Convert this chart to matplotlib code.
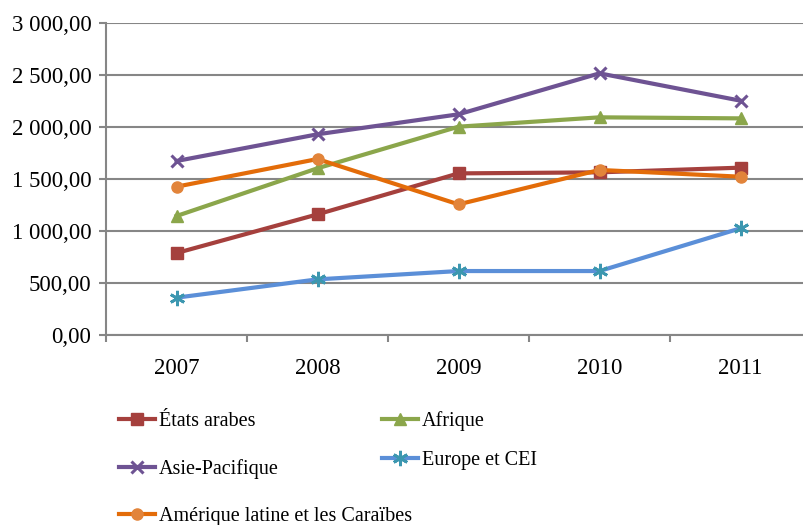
import matplotlib.pyplot as plt
import numpy as np
from matplotlib.ticker import FuncFormatter

plt.rcParams["font.family"] = ["Liberation Serif", "DejaVu Serif"]

years = ["2007", "2008", "2009", "2010", "2011"]
etats_arabes = [788, 1160, 1554, 1564, 1609]
afrique = [1144, 1603, 2003, 2093, 2083]
asie_pacifique = [1673, 1930, 2122, 2516, 2253]
europe_cei = [359, 535, 615, 615, 1026]
amerique_latine = [1426, 1692, 1256, 1587, 1522]

series = [
    ("États arabes", etats_arabes, "#A5403D", "#A5403D", "s", 8, 1),
    ("Afrique", afrique, "#8BA64B", "#8BA64B", "^", 8, 1),
    ("Asie-Pacifique", asie_pacifique, "#6E5393", "#6E5393", "x", 8, 2.2),
    ("Europe et CEI", europe_cei, "#5B8FD8", "#3C97B0", (6, 2, 0), 11, 2),
    ("Amérique latine et les Caraïbes", amerique_latine, "#E36C09", "#E2843A", "o", 8, 1),
]

fig = plt.figure(figsize=(8.04, 5.25), dpi=100)
ax = fig.add_axes([106 / 804, 1 - 335 / 525, 705 / 804, 312 / 525])

x = np.arange(len(years))
handles = {}
for name, vals, lc, mc, mk, ms, mew in series:
    (h,) = ax.plot(x, vals, color=lc, lw=3, marker=mk, ms=ms, mfc=mc, mec=mc,
                   mew=mew, zorder=3, clip_on=False, label=name)
    handles[name] = h

ax.set_xlim(-0.5, 4.5)
ax.set_ylim(0, 3000)
ax.set_yticks(np.arange(0, 3001, 500))
ax.yaxis.set_major_formatter(FuncFormatter(
    lambda v, p: f"{v:,.2f}".replace(",", " ").replace(".", ",")))
ax.set_xticks(x, years)
ax.set_xticks(np.arange(-0.5, 5, 1), minor=True)
ax.tick_params(axis="x", which="major", length=0, pad=16.5, labelsize=16.5)
ax.tick_params(axis="x", which="minor", length=5, width=1.5, color="#868686")
ax.tick_params(axis="y", length=5, width=1.5, color="#868686", pad=5.5, labelsize=16.5)
ax.grid(axis="y", color="#868686", lw=1.5, zorder=0)
for s in ["top", "right"]:
    ax.spines[s].set_visible(False)
for s in ["left", "bottom"]:
    ax.spines[s].set_color("#868686")
    ax.spines[s].set_linewidth(1.5)

leg_kw = dict(frameon=False, fontsize=14.5, handlelength=1.8, handletextpad=0.2,
              borderaxespad=0, borderpad=0)
left_names = ["États arabes", "Asie-Pacifique", "Amérique latine et les Caraïbes"]
right_names = ["Afrique", "Europe et CEI"]
leg1 = fig.legend([handles[n] for n in left_names], left_names,
                  loc="upper left", bbox_to_anchor=(119 / 804, 1 - 412 / 525),
                  labelspacing=1.4, **leg_kw)
leg2 = fig.legend([handles[n] for n in right_names], right_names,
                  loc="upper left", bbox_to_anchor=(382 / 804, 1 - 411 / 525),
                  labelspacing=1.0, **leg_kw)

fig.savefig("out.png", dpi=100)
